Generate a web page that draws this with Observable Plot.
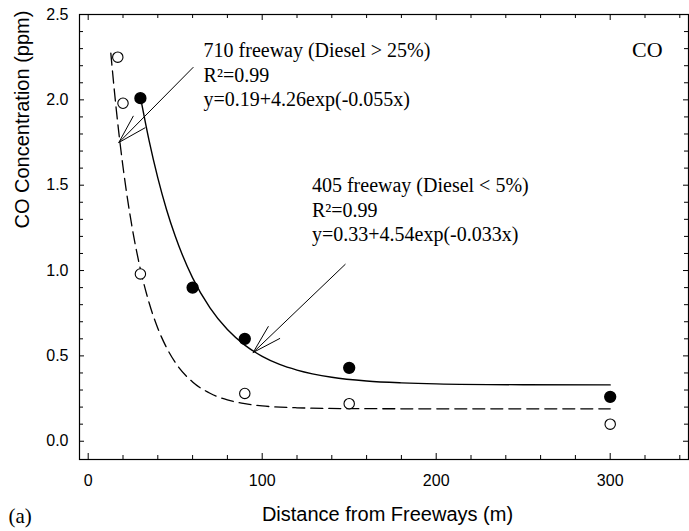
<!DOCTYPE html>
<html>
<head>
<meta charset="utf-8">
<script src="https://cdn.jsdelivr.net/npm/d3@7"></script>
<script src="https://cdn.jsdelivr.net/npm/@observablehq/plot@0.6"></script>
<style>
  html, body { margin: 0; padding: 0; background: #fff; }
  #chart { width: 689px; height: 531px; overflow: hidden; }
</style>
</head>
<body>
<div id="chart"></div>
<script>
// Measured points (710 freeway: open circles, 405 freeway: filled circles)
const openDist = [17, 20, 30, 90, 150, 300];
const openCO = [2.25, 1.98, 0.98, 0.28, 0.22, 0.10];
const filledDist = [30, 60, 90, 150, 300];
const filledCO = [2.01, 0.90, 0.60, 0.43, 0.26];

// Fitted curves
const fit710Dist = [13, 15, 17.5, 20, 22.5, 25, 30, 35, 40, 45, 50, 60, 70, 80, 90, 100, 120, 150, 200, 250, 300];
const fit710CO = [2.274, 2.057, 1.817, 1.608, 1.426, 1.267, 1.008, 0.811, 0.662, 0.549, 0.462, 0.347, 0.281, 0.242, 0.220, 0.207, 0.196, 0.191, 0.190, 0.190, 0.190];
const fit405Dist = [30, 35, 40, 45, 50, 60, 70, 80, 90, 100, 110, 120, 140, 160, 180, 200, 250, 300];
const fit405CO = [2.017, 1.761, 1.543, 1.358, 1.202, 0.957, 0.781, 0.654, 0.563, 0.497, 0.450, 0.417, 0.375, 0.353, 0.342, 0.336, 0.331, 0.330];

// Ticks
const xMajor = [0, 100, 200, 300];
const xMinor = [20, 40, 60, 80, 120, 140, 160, 180, 220, 240, 260, 280, 320, 340];
const yMajor = [0, 0.5, 1.0, 1.5, 2.0, 2.5];
const yMinor = [0.1, 0.2, 0.3, 0.4, 0.6, 0.7, 0.8, 0.9, 1.1, 1.2, 1.3, 1.4, 1.6, 1.7, 1.8, 1.9, 2.1, 2.2, 2.3, 2.4];

// Annotations
const noteText = ["710 freeway (Diesel > 25%)", "R²=0.99", "y=0.19+4.26exp(-0.055x)",
                  "405 freeway (Diesel < 5%)", "R²=0.99", "y=0.33+4.54exp(-0.033x)"];
const noteX = [66.3, 66.3, 66.3, 128.6, 128.6, 128.6];
const noteY = [2.291, 2.145, 1.999, 1.4965, 1.354, 1.2135];
const arrowX1 = [60.3, 147.7], arrowY1 = [2.19, 1.036];
const arrowX2 = [17.6, 94.8], arrowY2 = [1.75, 0.52];

const xTitle = "Distance from Freeways (m)";
const yTitle = "CO Concentration (ppm)";
const panelLabel = "(a)";
const pollutant = "CO";

const serif = "'Times New Roman', 'Liberation Serif', serif";
const sans = "Arial, 'Liberation Sans', sans-serif";

const W = 689, H = 531, mL = 79, mR = 1, mT = 14, mB = 72;
const fw = W - mL - mR, fh = H - mT - mB;

const openPts = openDist.map((d, i) => ({d, c: openCO[i]}));
const filledPts = filledDist.map((d, i) => ({d, c: filledCO[i]}));
const fit710 = fit710Dist.map((d, i) => ({d, c: fit710CO[i]}));
const fit405 = fit405Dist.map((d, i) => ({d, c: fit405CO[i]}));
const notes = noteText.map((t, i) => ({t, x: noteX[i], y: noteY[i]}));
const arrows = arrowX1.map((x1, i) => ({x1, y1: arrowY1[i], x2: arrowX2[i], y2: arrowY2[i]}));

const tk = {stroke: "black", strokeWidth: 1};

const plot = Plot.plot({
  width: W,
  height: H,
  marginLeft: mL,
  marginRight: mR,
  marginTop: mT,
  marginBottom: mB,
  x: {domain: [-5, 345], label: null},
  y: {domain: [-0.107, 2.5], label: null},
  style: {fontFamily: sans, fontSize: "16px", color: "black", background: "white", overflow: "visible"},
  marks: [
    // inward ticks
    Plot.tickX(xMajor, {x: d => d, insetTop: fh - 6, ...tk}),
    Plot.tickX(xMinor, {x: d => d, insetTop: fh - 4, ...tk}),
    Plot.tickX(xMajor, {x: d => d, insetBottom: fh - 6, ...tk}),
    Plot.tickX(xMinor, {x: d => d, insetBottom: fh - 4, ...tk}),
    Plot.tickY(yMajor, {y: d => d, insetRight: fw - 5, ...tk}),
    Plot.tickY(yMinor, {y: d => d, insetRight: fw - 4, ...tk}),
    Plot.tickY(yMajor, {y: d => d, insetLeft: fw - 5, ...tk}),
    Plot.tickY(yMinor, {y: d => d, insetLeft: fw - 4, ...tk}),
    // tick labels
    Plot.axisX(xMajor, {anchor: "bottom", tickSize: 0, tickPadding: 15, fontSize: 16, label: null}),
    Plot.axisY(yMajor, {anchor: "left", tickSize: 0, tickPadding: 11, fontSize: 16, tickFormat: d3.format(".1f"), label: null}),
    Plot.frame({stroke: "black", strokeWidth: 1.2}),
    // fitted curves
    Plot.line(fit710, {x: "d", y: "c", curve: "monotone-x", stroke: "black", strokeWidth: 1.3, strokeDasharray: "12,6"}),
    Plot.line(fit405, {x: "d", y: "c", curve: "monotone-x", stroke: "black", strokeWidth: 1.4}),
    // points
    Plot.dot(openPts, {x: "d", y: "c", r: 5.2, fill: "white", stroke: "black", strokeWidth: 1.1}),
    Plot.dot(filledPts, {x: "d", y: "c", r: 5.4, fill: "black", stroke: "black"}),
    // arrows
    Plot.arrow(arrows, {x1: "x1", y1: "y1", x2: "x2", y2: "y2", stroke: "black", strokeWidth: 1, headLength: 45, headAngle: 32}),
    // annotations
    Plot.text(notes, {x: "x", y: "y", text: "t", textAnchor: "start", lineAnchor: "middle", fontFamily: serif, fontSize: 20, fill: "black"}),
    Plot.text([pollutant], {x: 312.6, y: 2.291, text: d => d, textAnchor: "start", lineAnchor: "middle", fontFamily: serif, fontSize: 22, fill: "black"}),
    // axis titles
    Plot.text([xTitle], {frameAnchor: "bottom", text: d => d, dx: 3.5, dy: 55, lineAnchor: "middle", fontFamily: sans, fontSize: 20, fill: "black"}),
    Plot.text([yTitle], {frameAnchor: "left", text: d => d, rotate: -90, dx: -57, dy: -8.5, lineAnchor: "middle", fontFamily: sans, fontSize: 20, fill: "black"}),
    Plot.text([panelLabel], {frameAnchor: "bottom-left", text: d => d, textAnchor: "start", dx: -71, dy: 56.5, lineAnchor: "middle", fontFamily: serif, fontSize: 21, fill: "black"})
  ]
});
document.getElementById("chart").appendChild(plot);
</script>
</body>
</html>
